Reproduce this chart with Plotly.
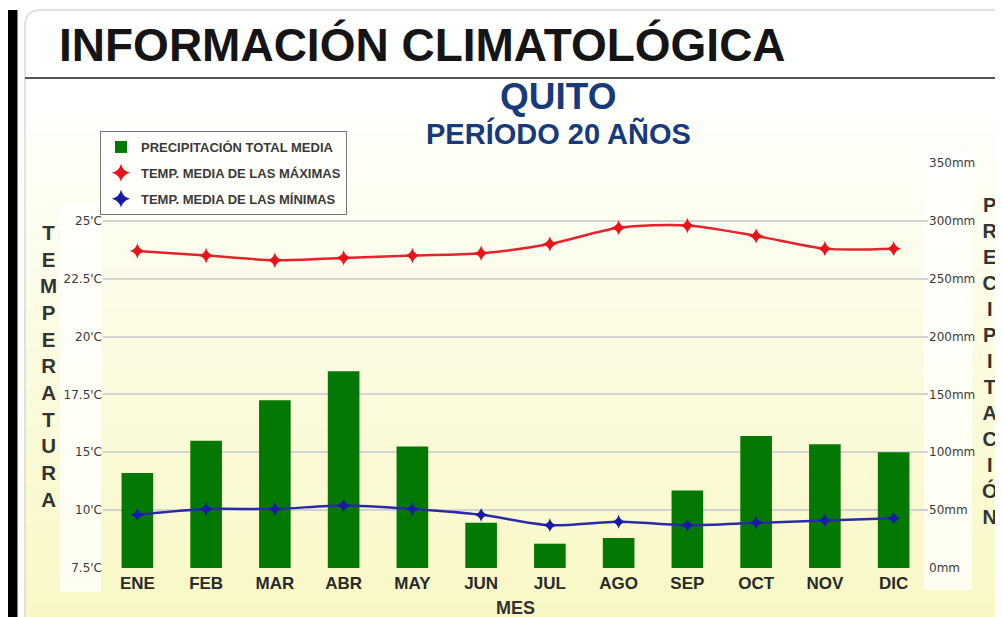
import plotly.graph_objects as go

# ---------------- data ----------------
months = ["ENE", "FEB", "MAR", "ABR", "MAY", "JUN", "JUL", "AGO", "SEP", "OCT", "NOV", "DIC"]
precip_mm = [82, 110, 145, 170, 105, 39, 21, 26, 67, 114, 107, 100]
temp_max = [23.7, 23.5, 23.3, 23.4, 23.5, 23.6, 24.0, 24.7, 24.8, 24.35, 23.8, 23.8]
temp_min = [12.3, 12.55, 12.55, 12.7, 12.55, 12.3, 11.85, 12.0, 11.85, 11.95, 12.05, 12.15]
temp_tickvals = [10, 12.5, 15, 17.5, 20, 22.5, 25]
temp_ticktext = ["7.5'C", "10'C", "15'C", "17.5'C", "20'C", "22.5'C", "25'C"]
precip_tickvals = [0, 50, 100, 150, 200, 250, 300, 350]
precip_ticktext = ["0mm", "50mm", "100mm", "150mm", "200mm", "250mm", "300mm", "350mm"]

# page has an 8px body margin: design in reference pixels, shift by 8
OFF = 8
W, H = 1003 - OFF, 617 - OFF
def X(px):
    return (px - OFF) / W
def Y(py):
    return 1 - (py - OFF) / H

FONT = "Liberation Sans, Arial, sans-serif"
NARROW = "Liberation Sans Narrow, Arial Narrow, Liberation Sans, sans-serif"
TICKFONT = "DejaVu Sans, Verdana, sans-serif"

RED = "#e3242b"
BLUE = "#2b2ba6"
GREEN = "#037803"

fig = go.Figure()

fig.add_trace(go.Bar(
    x=months, y=precip_mm, name="PRECIPITACIÓN TOTAL MEDIA",
    marker=dict(color=GREEN, line=dict(width=0)), width=0.46,
    yaxis="y", legendgroup="a", hoverinfo="x+y",
))
fig.add_trace(go.Scatter(
    x=months, y=temp_max, name="TEMP. MEDIA DE LAS MÁXIMAS", mode="lines+markers",
    line=dict(color=RED, width=2.5, shape="spline", smoothing=0.8),
    marker=dict(symbol="star-diamond", size=11, color="#e8141c"),
    yaxis="y2", legendgroup="b", showlegend=False,
))
fig.add_trace(go.Scatter(
    x=months, y=temp_min, name="TEMP. MEDIA DE LAS MÍNIMAS", mode="lines+markers",
    line=dict(color=BLUE, width=2.5, shape="spline", smoothing=0.8),
    marker=dict(symbol="star-diamond", size=10, color="#1a1aa8"),
    yaxis="y2", legendgroup="c", showlegend=False,
))
# legend entries (marker only, as in the reference legend)
fig.add_trace(go.Scatter(x=[None], y=[None], mode="markers", name="TEMP. MEDIA DE LAS MÁXIMAS",
                         marker=dict(symbol="star-diamond", size=13, color="#e8141c"),
                         yaxis="y2", legendgroup="b", showlegend=True))
fig.add_trace(go.Scatter(x=[None], y=[None], mode="markers", name="TEMP. MEDIA DE LAS MÍNIMAS",
                         marker=dict(symbol="star-diamond", size=13, color="#1a1aa8"),
                         yaxis="y2", legendgroup="c", showlegend=True))

shapes = []
# gradient background
N = 40
y0, y1 = 80, 617
for i in range(N):
    t = (i + 0.5) / N
    r = round(255 + (249 - 255) * t)
    g = round(255 + (248 - 255) * t)
    b = round(255 + (196 - 255) * t)
    ya = y0 + (y1 - y0) * i / N
    yb = y0 + (y1 - y0) * (i + 1) / N + 0.5
    shapes.append(dict(type="rect", xref="paper", yref="paper", x0=X(25), x1=X(1003), y0=Y(yb), y1=Y(ya),
                       fillcolor=f"rgb({r},{g},{b})", line=dict(width=0), layer="below"))
# whitish columns behind tick labels
shapes.append(dict(type="rect", xref="paper", yref="paper", x0=X(60), x1=X(101), y0=Y(592), y1=Y(205),
                   fillcolor="rgba(255,255,255,0.75)", line=dict(width=0), layer="below"))
shapes.append(dict(type="rect", xref="paper", yref="paper", x0=X(924), x1=X(972), y0=Y(590), y1=Y(150),
                   fillcolor="rgba(255,255,255,0.75)", line=dict(width=0), layer="below"))
# panel rounded border
shapes.append(dict(type="path", xref="paper", yref="paper",
                   path=f"M {X(25)},{Y(617)} L {X(25)},{Y(26)} Q {X(25)},{Y(10)} {X(41)},{Y(10)} L {X(1003)},{Y(10)}",
                   line=dict(color="#d8d8d8", width=1.5), layer="below"))
# title separator
shapes.append(dict(type="line", xref="paper", yref="paper", x0=X(25), x1=X(1003), y0=Y(78), y1=Y(78),
                   line=dict(color="#555555", width=2)))
# black bar on the left
shapes.append(dict(type="rect", xref="paper", yref="paper", x0=X(8), x1=X(17.5), y0=Y(617), y1=Y(10),
                   fillcolor="#000000", line=dict(width=0)))

annotations = [
    dict(text="<b>INFORMACIÓN CLIMATOLÓGICA</b>", x=X(57), y=Y(45), xref="paper", yref="paper",
         xanchor="left", yanchor="middle", showarrow=False,
         font=dict(family=FONT, size=46, color="#151515")),
    dict(text="<b>QUITO</b>", x=X(558), y=Y(97), xref="paper", yref="paper",
         xanchor="center", yanchor="middle", showarrow=False,
         font=dict(family=FONT, size=37, color="#163a7a")),
    dict(text="<b>PERÍODO 20 AÑOS</b>", x=X(558), y=Y(134), xref="paper", yref="paper",
         xanchor="center", yanchor="middle", showarrow=False,
         font=dict(family=FONT, size=29, color="#163a7a")),
    dict(text="<b>" + "<br>".join(list("TEMPERATURA")) + "</b>", x=X(48), y=Y(366), xref="paper", yref="paper",
         xanchor="center", yanchor="middle", showarrow=False, align="center",
         font=dict(family=FONT, size=20.5, color="#333333")),
    dict(text="<b>" + "<br>".join(list("PRECIPITACIÓN")) + "</b>", x=X(990), y=Y(361), xref="paper", yref="paper",
         xanchor="center", yanchor="middle", showarrow=False, align="center",
         font=dict(family=FONT, size=20, color="#333333")),
    dict(text="<b>MES</b>", x=X(516), y=Y(608), xref="paper", yref="paper",
         xanchor="center", yanchor="middle", showarrow=False,
         font=dict(family=NARROW, size=18, color="#333333")),
]

fig.update_layout(
    width=W, height=H,
    margin=dict(l=0, r=0, t=0, b=0, autoexpand=False),
    paper_bgcolor="white", plot_bgcolor="rgba(0,0,0,0)",
    showlegend=True,
    legend=dict(x=X(100), y=Y(131), xanchor="left", yanchor="top",
                bgcolor="rgba(255,255,255,0.55)", bordercolor="#777777", borderwidth=1,
                font=dict(family=FONT, size=13, color="#3a3a3a", weight="bold"),
                traceorder="grouped", tracegroupgap=6, itemwidth=30),
    xaxis=dict(domain=[X(103), X(928)], range=[-0.5, 11.5], type="category", automargin=False,
               showgrid=False, zeroline=False, showline=False, ticks="",
               tickfont=dict(family=NARROW, size=17, color="#2a2a2a", weight="bold"),
               ticklabelstandoff=3),
    yaxis=dict(domain=[Y(568), Y(163)], range=[0, 350], side="right", automargin=False,
               tickvals=precip_tickvals, ticktext=precip_ticktext,
               showgrid=True, gridcolor="#d3d3d3", gridwidth=2, zeroline=False, showline=False,
               ticks="", tickfont=dict(family=TICKFONT, size=12, color="#3a3a3a")),
    yaxis2=dict(domain=[Y(568), Y(163)], range=[10, 27.5], side="left", overlaying="y",
                anchor="x", automargin=False, tickvals=temp_tickvals, ticktext=temp_ticktext,
                showgrid=False, zeroline=False, showline=False, ticks="",
                tickfont=dict(family=TICKFONT, size=12, color="#3a3a3a")),
    shapes=shapes,
    annotations=annotations,
)

fig.write_html("out.html")
